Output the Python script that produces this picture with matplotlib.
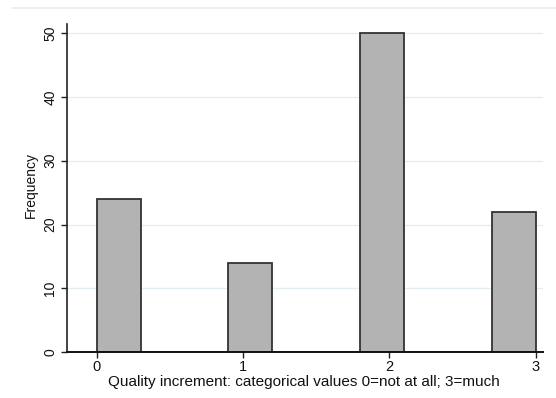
import matplotlib
matplotlib.use("Agg")
import matplotlib.pyplot as plt
import numpy as np
from matplotlib.lines import Line2D

plt.rcParams['font.family'] = ['Liberation Sans', 'DejaVu Sans']

# Data
categories = [0, 1, 2, 3]
frequencies = [24, 14, 50, 22]
bin_edges = np.linspace(0, 3, 11)
x_ticks = [0, 1, 2, 3]
y_ticks = [0, 10, 20, 30, 40, 50]
x_label = "Quality increment: categorical values 0=not at all; 3=much"
y_label = "Frequency"

W, H = 556, 398
fig = plt.figure(figsize=(W / 100, H / 100), dpi=100)
fig.patch.set_facecolor('white')

# faint top border line of graph region
fig.add_artist(Line2D([12 / W, 1.0], [1 - 8 / H, 1 - 8 / H], color='#e6eef1', lw=1.2))

left, right = 67 / W, 543 / W
bottom, top = 1 - 352.3 / H, 1 - 24 / H
ax = fig.add_axes([left, bottom, right - left, top - bottom])

ax.hist(categories, bins=bin_edges, weights=frequencies,
        color='#b3b3b3', edgecolor='#333333', linewidth=1.3, zorder=3)

ax.set_xlim(-0.203, 3.05)
ax.set_ylim(0, 51.4)

ax.set_yticks(y_ticks)
ax.set_xticks(x_ticks)
ax.yaxis.grid(True, color='#e4edf2', lw=1.0, zorder=0)
ax.set_axisbelow(True)

for s in ['top', 'right']:
    ax.spines[s].set_visible(False)
ax.spines['left'].set_color('#222222')
ax.spines['left'].set_linewidth(1.2)
ax.spines['bottom'].set_color('#111111')
ax.spines['bottom'].set_linewidth(1.4)
ax.spines['bottom'].set_zorder(4)

ax.tick_params(axis='both', direction='out', length=4, width=1.0, color='#222222',
               labelsize=10.5, labelcolor='#111111')
ax.tick_params(axis='x', pad=1.5)
ax.tick_params(axis='y', pad=3, labelsize=10)
for lab in ax.get_yticklabels():
    lab.set_rotation(90)
    lab.set_va('center')
    lab.set_ha('right')

ax.set_xlabel(x_label, fontsize=11, color='#111111', va='center')
ax.xaxis.set_label_coords(0.498, (352.3 - 382) / 328.3)
ax.set_ylabel(y_label, fontsize=10, color='#111111', va='center')
ax.yaxis.set_label_coords((31 - 67) / 476, (352.3 - 185) / 328.3)

fig.savefig('out.png', dpi=100, facecolor='white')
